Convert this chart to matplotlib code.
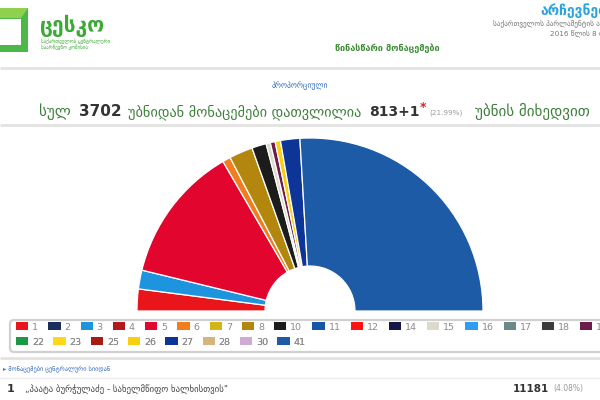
import matplotlib
matplotlib.use('Agg')
import matplotlib.pyplot as plt
from matplotlib.patches import Rectangle, FancyBboxPatch, Polygon, Patch

plt.rcParams['font.family'] = ['DejaVu Sans']

# ---------------- data ----------------
pie_parties = ['1', '3', '5', '6', '8', '10', '15', '19', '26', '27', '41']
vote_share = [4.08, 3.5, 25.6, 1.5, 4.4, 2.7, 0.8, 0.9, 1.0, 3.6, 51.8]

legend_row1 = ['1', '2', '3', '4', '5', '6', '7', '8', '10', '11', '12', '14',
               '15', '16', '17', '18', '19']
legend_row2 = ['22', '23', '25', '26', '27', '28', '30', '41']

party_colors = {
    '1': '#e8151b', '2': '#1b2d5c', '3': '#1f94de', '4': '#b01b1e',
    '5': '#e2062e', '6': '#f07d1e', '7': '#d4b516', '8': '#b3870e',
    '10': '#1c1c1c', '11': '#1656a8', '12': '#ff1212', '14': '#15174a',
    '15': '#dcdacb', '16': '#2f9cf2', '17': '#6d8888', '18': '#3c3c3c',
    '19': '#6e1a4a', '22': '#1d9946', '23': '#ffd618', '25': '#a81a14',
    '26': '#f8cf10', '27': '#0d3497', '28': '#d5b57e', '30': '#d1a9d5',
    '41': '#1d5ba7',
}

total_precincts = 3702
counted_precincts = '813+1'
counted_pct = '(21.99%)'
first_party_num = '1'
first_party_name = '„პაატა ბურჭულაძე - სახელმწიფო ხალხისთვის"'
first_party_votes = '11181'
first_party_pct = '(4.08%)'

# ---------------- figure ----------------
W, H = 600, 400
fig = plt.figure(figsize=(6, 4), dpi=100)
fig.patch.set_facecolor('white')

bg = fig.add_axes([0, 0, 1, 1])
bg.set_xlim(0, W)
bg.set_ylim(H, 0)
bg.axis('off')

# logo
bg.add_patch(Rectangle((-6, 8), 34, 44, fc='#4cb847', ec='none'))
bg.add_patch(Polygon([(-6, 8), (28, 8), (21, 18), (-6, 18)], closed=True,
                     fc='#8fd14f', ec='none'))
bg.add_patch(Rectangle((-6, 19), 27, 26, fc='white', ec='none'))
bg.text(40, 26, 'ცესკო', color='#3aa935', fontsize=15, fontweight='bold',
        va='center', ha='left')
bg.text(41, 41, 'საქართველოს ცენტრალური', color='#4cae45', fontsize=3.6,
        va='center', ha='left')
bg.text(41, 47, 'საარჩევნო კომისია', color='#4cae45', fontsize=3.6,
        va='center', ha='left')

# top right header
bg.text(540, 11, 'არჩევნები', color='#2aa3dc', fontsize=10, fontweight='bold',
        va='center', ha='left')
bg.text(493, 23, 'საქართველოს პარლამენტის არჩევნები', color='#777777',
        fontsize=5.2, va='center', ha='left')
bg.text(550, 33, '2016 წლის 8 ოქტომბერი', color='#777777', fontsize=5.2,
        va='center', ha='left')
bg.text(335, 48, 'წინასწარი მონაცემები', color='#3b8c33', fontsize=6.5,
        fontweight='bold', va='center', ha='left')

# separator lines
for yy in (68, 125, 358):
    bg.plot([0, W], [yy, yy], color='#e2e2e2', lw=2, solid_capstyle='butt')
bg.plot([0, W], [378, 378], color='#ececec', lw=1)

# title block
bg.text(300, 86, 'პროპორციული', color='#2f6cc0', fontsize=5.5,
        va='center', ha='center')
green = '#3d7f3a'
bg.text(39, 112, 'სულ', color=green, fontsize=10.8, va='center', ha='left')
bg.text(79, 112, str(total_precincts), color='#333333', fontsize=11,
        fontweight='bold', va='center', ha='left')
bg.text(128, 112, 'უბნიდან მონაცემები დათვლილია', color=green, fontsize=10.3,
        va='center', ha='left')
bg.text(369, 112, counted_precincts, color='#333333', fontsize=10,
        fontweight='bold', va='center', ha='left')
bg.text(420, 108, '*', color='#e0202a', fontsize=9, fontweight='bold',
        va='center', ha='left')
bg.text(429, 113, counted_pct, color='#999999', fontsize=5.2,
        va='center', ha='left')
bg.text(475, 112, 'უბნის მიხედვით', color=green, fontsize=10.8,
        va='center', ha='left')

# ---------------- half donut ----------------
cx, cy, R = 310, 311, 173
pie_ax = fig.add_axes([(cx - R) / W, (H - cy) / H, 2 * R / W, R / H])
colors = [party_colors[p] for p in pie_parties]
total = sum(vote_share)
wedges, _ = pie_ax.pie(vote_share + [total], colors=colors + ['none'],
                       startangle=180, counterclock=False, radius=1,
                       wedgeprops=dict(width=0.74, edgecolor='white',
                                       linewidth=0.9))
wedges[-1].set_visible(False)
pie_ax.set_xlim(-1, 1)
pie_ax.set_ylim(0, 1)
pie_ax.axis('off')

# ---------------- legend ----------------
bg.add_patch(FancyBboxPatch((10, 320), 640, 32,
                            boxstyle='round,pad=0,rounding_size=4',
                            fc='none', ec='#d0d0d0', lw=1.6))


def make_legend(labels, y, colsp):
    handles = [Patch(facecolor=party_colors[l], edgecolor='none') for l in labels]
    leg = bg.legend(handles, labels, loc='center left', ncol=len(labels),
                    bbox_to_anchor=(16, y), bbox_transform=bg.transData,
                    frameon=False, fontsize=6.8, labelcolor='#8a8a8a',
                    handlelength=1.3, handleheight=0.95, handletextpad=0.4,
                    columnspacing=colsp, borderpad=0, borderaxespad=0)
    bg.add_artist(leg)
    return leg


make_legend(legend_row1, 327, 1.08)
make_legend(legend_row2, 342, 0.98)

# ---------------- bottom list ----------------
bg.text(3, 369, '▸ მონაცემები ცენტრალური სიიდან', color='#3a6fc0',
        fontsize=4.6, va='center', ha='left')
bg.text(7, 389, first_party_num, color='#333333', fontsize=8,
        fontweight='bold', va='center', ha='left')
bg.text(25, 389, first_party_name, color='#444444', fontsize=6.3,
        va='center', ha='left')
bg.text(513, 389, first_party_votes, color='#333333', fontsize=7.5,
        fontweight='bold', va='center', ha='left')
bg.text(553, 389, first_party_pct, color='#999999', fontsize=5.5,
        va='center', ha='left')

fig.savefig('out.png', dpi=100, facecolor='white')
